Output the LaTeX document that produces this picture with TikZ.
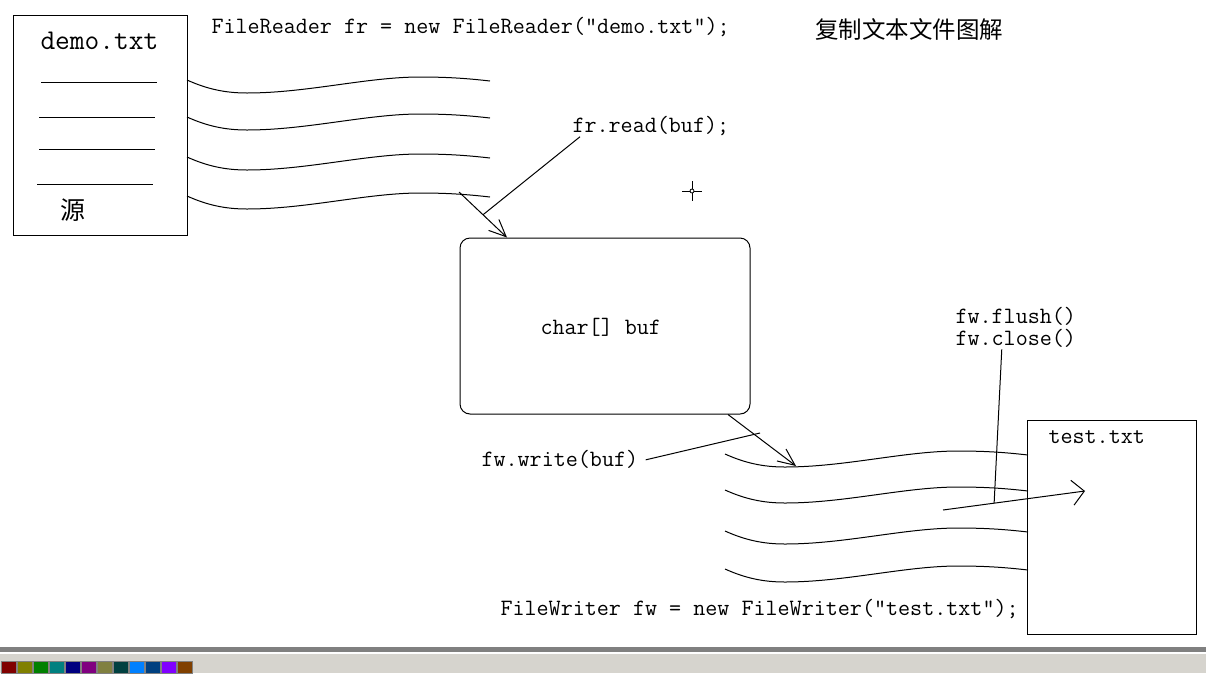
\documentclass[tikz,border=0pt]{standalone}
\usepackage{fontspec}
\newfontfamily\cjk{Noto Sans CJK SC}
\usetikzlibrary{arrows.meta,calc}
\definecolor{uibar}{HTML}{808080}
\definecolor{uibg}{HTML}{D6D4CE}
\begin{document}
\begin{tikzpicture}[x=1pt,y=-1pt,line width=1pt,
  code/.style={font=\fontsize{23.4}{24}\ttfamily,inner sep=0pt,anchor=base west},
  filebox/.style={draw,anchor=north west,inner sep=0pt},
  barb/.style={-{Straight Barb[length=17pt,width=15pt]}},
  bigbarb/.style={-{Straight Barb[length=12pt,width=25pt]}},
  wave/.pic={\draw (0,0) .. controls (20,9) and (38,13) .. (60,13)
     .. controls (120,13) and (180,-3) .. (233,-3)
     .. controls (265,-3) and (285,-1) .. (303,1);}]
\useasboundingbox (0,0) rectangle (1206,673);
\fill[white] (0,0) rectangle (1206,673);

% source file
\node[filebox,minimum width=174pt,minimum height=220pt] (src) at (13,15) {};
\node[font=\fontsize{28.6}{30}\ttfamily,inner sep=0pt,anchor=base west] (srcname) at (40,49) {demo.txt};
\draw (41,82) -- (157,82);
\draw (39,117) -- (155,117);
\draw (39,149) -- (155,149);
\draw (37,184) -- (153,184);
\node[font=\fontsize{25}{26}\cjk,inner sep=0pt] (yuan) at (73,210) {源};

\foreach \y in {80,117,157,196} \pic at (187,\y) {wave};

% labels
\node[code] (frdecl) at (211,33) {FileReader fr = new FileReader(”demo.txt”);};
\node[font=\fontsize{23.5}{24}\cjk,inner sep=0pt] (title) at (909,30) {复制文本文件图解};
\node[code] (fr) at (572,132) {fr.read(buf);};

% buffer
\node[draw,rounded corners=10pt,minimum width=290pt,minimum height=176pt,inner sep=0pt] (buf) at (605,326) {};
\node[code] (bufname) at (540,334) {char[] buf};

% read arrow
\coordinate (rdS) at (459,192);
\draw[barb] (rdS) -- ([xshift=-98pt]buf.north) coordinate (rdT);
\draw ([xshift=8pt,yshift=-1pt]fr.south west) -- ($(rdS)!0.5!(rdT)$);

% crosshair
\draw[line width=0.8pt] (682,191) -- (702,191) (692,181) -- (692,201);
\draw[line width=0.8pt,fill=white] (692,191) circle (2);

% destination
\node[filebox,minimum width=169pt,minimum height=214pt] (dst) at (1027,420) {};
\node[code] (dstname) at (1048,443) {test.txt};
\foreach \y in {454,490,531,569} \pic at (725,\y) {wave};

% write arrow
\coordinate (wrT) at (796,466);
\draw[barb] ([xshift=123pt]buf.south) -- (wrT);
\node[code] (fww) at (481,466) {fw.write(buf)};
\coordinate (wrE) at (760,433);
\draw ([xshift=7pt,yshift=-1pt]fww.east) -- (wrE);

% flush / close
\node[code] (fwf) at (955,323) {fw.flush()};
\node[code] (fwc) at (955,345) {fw.close()};
\coordinate (flS) at (943,510);
\coordinate (flT) at (1085,491);
\draw[bigbarb] (flS) -- (flT);
\draw ([xshift=-14pt,yshift=-2pt]fwc.south) -- ($(flS)!0.36!(flT)$);

\node[code] (fwdecl) at (500,615) {FileWriter fw = new FileWriter(”test.txt”);};

% bottom window strip
\fill[uibar] (0,647) rectangle (1206,652);
\fill[uibg] (0,654) rectangle (1206,673);
\foreach \c [count=\i from 0] in {800000,808000,008000,008080,000080,800080,808040,004040,0080FF,004080,8000FF,804000}{
  \definecolor{sw}{HTML}{\c}
  \filldraw[fill=sw,draw=gray,line width=0.6pt] (1+16*\i,661) rectangle (16+16*\i,673.5);
}
\end{tikzpicture}
\end{document}
